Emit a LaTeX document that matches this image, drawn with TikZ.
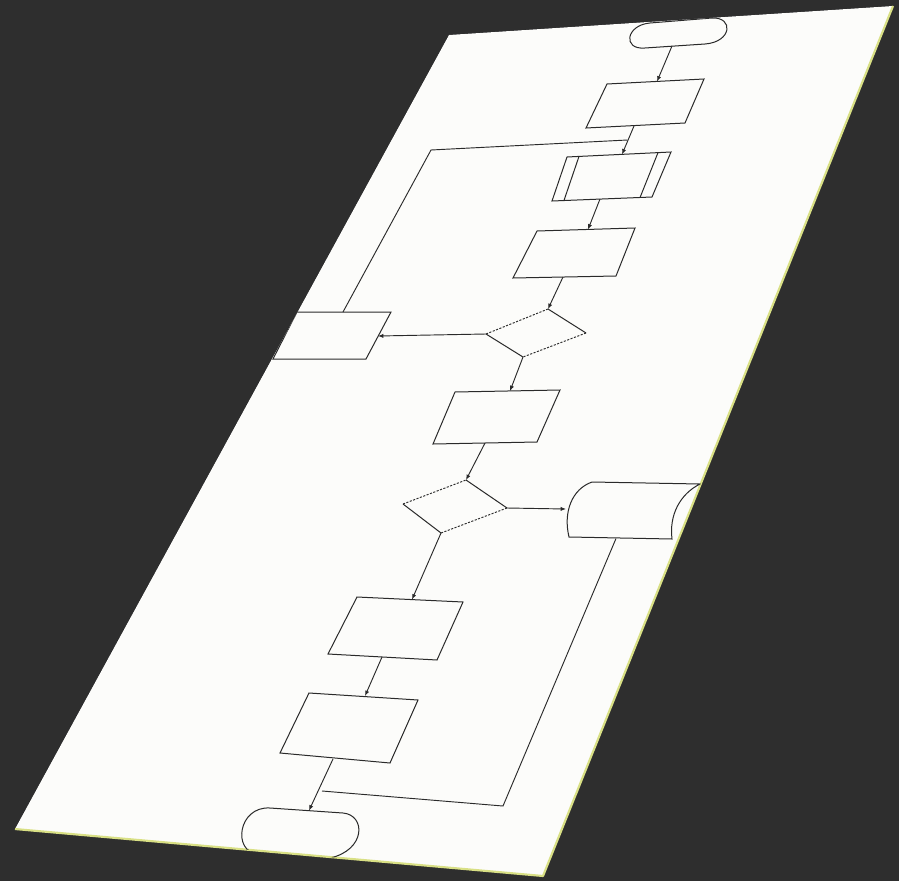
\documentclass[tikz,border=0pt]{standalone}
\usetikzlibrary{arrows.meta}
\definecolor{bgc}{HTML}{2E2E2E}
\definecolor{shd}{HTML}{101016}
\definecolor{sheetc}{HTML}{FCFCFA}
\definecolor{edgey}{HTML}{D9E085}
\definecolor{ink}{HTML}{2A2A2A}
\tikzset{
  shapeline/.style={draw=ink,line width=0.75pt,line join=miter},
  dashedge/.style={draw=ink,line width=0.7pt,dash pattern=on 1.6pt off 1.1pt},
  flow/.style={draw=ink,line width=0.7pt,-{Latex[length=4pt,width=3.2pt]}},
  plainline/.style={draw=ink,line width=0.7pt},
}
\begin{document}
\begin{tikzpicture}[x=0.75pt,y=-0.75pt]
\useasboundingbox (0,0) rectangle (899,881);
\fill[bgc] (0,0) rectangle (899,881);
% sheet corners
\coordinate (shTL) at (449,35);
\coordinate (shTR) at (893,6);
\coordinate (shBR) at (543,876);
\coordinate (shBL) at (15,829);
% shadow
\foreach \k in {1,...,12}{
  \fill[shd,opacity=0.11,shift={(\k*3.2,\k*2.0)}] (shTL) -- (shTR) -- (shBR) -- (shBL) -- cycle;
}
\fill[sheetc] (shTL) -- (shTR) -- (shBR) -- (shBL) -- cycle;
\draw[edgey,line width=1.6pt,line join=round] (shTR) -- (shBR) -- (shBL);

\begin{scope}
\clip (shTL) -- (shTR) -- (shBR) -- (shBL) -- cycle;

% ---------- start terminal
\coordinate (stA) at (650,23);
\coordinate (stB) at (712,18);
\coordinate (stC) at (705,44);
\coordinate (stD) at (645,48);
\draw[shapeline] (stA) -- (stB) .. controls (734,17) and (732,42) .. (stC) -- (stD) .. controls (622,50) and (626,25) .. (stA);
\coordinate (startB) at (672,46);

% ---------- process 1
\draw[shapeline] (607,84) -- (704,79) -- (685,123) -- (586,128) -- cycle;
\coordinate (p1T) at (657,81.5);
\coordinate (p1B) at (634,126);

% ---------- process 2 (predefined)
\draw[shapeline] (567,157) -- (671,152) -- (652,197) -- (552,201) -- cycle;
\draw[shapeline] (579,156.4) -- (564,200.4);
\draw[shapeline] (658,152.6) -- (640,197.6);
\coordinate (p2T) at (622,154.4);
\coordinate (p2B) at (600,199);

% ---------- process 3
\draw[shapeline] (537,231) -- (635,228) -- (616,276) -- (513,278) -- cycle;
\coordinate (p3T) at (588,229.5);
\coordinate (p3B) at (563,277);

% ---------- decision 1
\coordinate (d1T) at (548,309);
\coordinate (d1R) at (586,333);
\coordinate (d1B) at (523,357);
\coordinate (d1L) at (486,334);
\draw[dashedge] (d1L) -- (d1T);
\draw[shapeline] (d1T) -- (d1R);
\draw[dashedge] (d1R) -- (d1B);
\draw[shapeline] (d1B) -- (d1L);

% ---------- process 4 (left)
\draw[shapeline] (297,312) -- (391,312) -- (366,359) -- (273,359) -- cycle;
\coordinate (p4R) at (378,336);
\coordinate (p4T) at (343,312);

% ---------- process 5
\draw[shapeline] (455,392) -- (560,390) -- (537,442) -- (433,444) -- cycle;
\coordinate (p5T) at (510,391);
\coordinate (p5B) at (485,443);

% ---------- decision 2
\coordinate (d2T) at (466,480);
\coordinate (d2R) at (507,508);
\coordinate (d2B) at (441,533);
\coordinate (d2L) at (403,504);
\draw[dashedge] (d2L) -- (d2T);
\draw[shapeline] (d2T) -- (d2R);
\draw[dashedge] (d2R) -- (d2B);
\draw[shapeline] (d2B) -- (d2L);

% ---------- stored data
\draw[shapeline] (592,482) -- (700,484)
  .. controls (680,494) and (669,515) .. (672,539)
  -- (569,537) .. controls (563,512) and (572,489) .. (592,482);
\coordinate (sdL) at (566,509);
\coordinate (sdB) at (616,538.5);

% ---------- process 6
\draw[shapeline] (357,597) -- (463,602) -- (437,660) -- (328,654) -- cycle;
\coordinate (p6T) at (412,599.5);
\coordinate (p6B) at (382,657);

% ---------- process 7
\draw[shapeline] (309,693) -- (418,700) -- (390,763) -- (280,753) -- cycle;
\coordinate (p7T) at (365,696);
\coordinate (p7B) at (333,759);

% ---------- end terminal
\draw[shapeline] (270,808) -- (343,813) .. controls (366,815) and (366,850) .. (330,858)
  -- (258,854) .. controls (232,852) and (238,806) .. (270,808);
\coordinate (endT) at (309,810.5);

% ---------- connectors
\draw[flow] (startB) -- (p1T);
\draw[flow] (p1B) -- (p2T);
\draw[flow] (p2B) -- (p3T);
\draw[flow] (p3B) -- (d1T);
\draw[flow] (d1L) -- (p4R);
\coordinate (loopA) at (431,150);
\coordinate (loopB) at (627.5,140);
\draw[plainline] (p4T) -- (loopA) -- (loopB);
\draw[flow] (d1B) -- (p5T);
\draw[flow] (p5B) -- (d2T);
\draw[flow] (d2R) -- (sdL);
\draw[flow] (d2B) -- (p6T);
\draw[flow] (p6B) -- (p7T);
\draw[flow] (p7B) -- (endT);
\coordinate (retA) at (503,806);
\coordinate (retB) at (322,791);
\draw[plainline] (sdB) -- (retA) -- (retB);
\end{scope}
\end{tikzpicture}
\end{document}
